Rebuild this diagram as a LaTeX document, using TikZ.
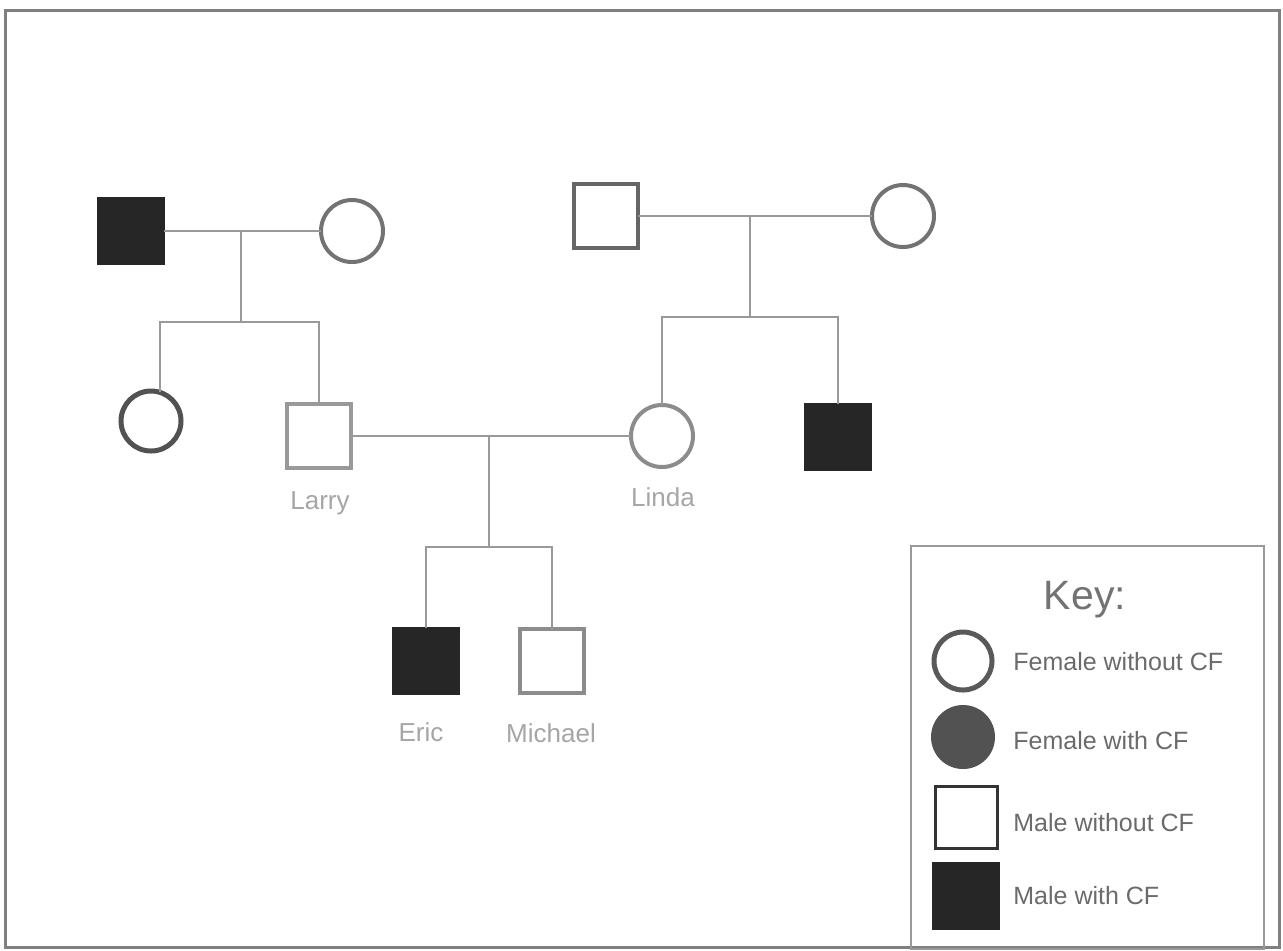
\documentclass[tikz,border=0pt]{standalone}
\usepackage{fontspec}
\setmainfont{Liberation Sans}
\begin{document}
\begin{tikzpicture}[x=0.5pt,y=-0.5pt,
  conn/.style={draw=black!40, line width=1pt},
  male/.style={rectangle, draw=black!60, fill=white, line width=2pt, minimum size=32pt, inner sep=0pt, outer sep=0pt},
  malecf/.style={rectangle, draw=black!85, fill=black!85, line width=1pt, minimum size=33pt, inner sep=0pt, outer sep=0pt},
  female/.style={circle, draw=black!60, fill=white, line width=2pt, minimum size=31pt, inner sep=0pt, outer sep=0pt},
  femalecf/.style={circle, draw=black!68, fill=black!68, line width=1pt, minimum size=31pt, inner sep=0pt, outer sep=0pt},
  lbl/.style={text=black!35, font=\fontsize{13}{15}\selectfont},
  keytxt/.style={text=black!58, font=\fontsize{12.5}{15}\selectfont, anchor=west, inner sep=0pt}]
\useasboundingbox (0,0) rectangle (1283,950);
\fill[white] (0,0) rectangle (1283,950);
\draw[black!50, line width=1.5pt] (5,10) rectangle (1279,947);

% generation 1
\node[malecf] (gf1) at (131,231) {};
\node[female, draw=black!55] (gm1) at (352,231) {};
\node[male, draw=black!60] (gf2) at (606,216) {};
\node[female, draw=black!55] (gm2) at (903,216) {};

% generation 2
\node[female, draw=black!68, line width=2.5pt, minimum size=30pt] (aunt) at (151,421) {};
\node[male, draw=black!40] (larry) at (319,436) {};
\node[female, draw=black!45] (linda) at (662,436) {};
\node[malecf] (uncle) at (838,437) {};
\node[lbl] (larrylbl) at (320,503) {Larry};
\node[lbl] (lindalbl) at (663,497) {Linda};

% generation 3
\node[malecf] (eric) at (426,661) {};
\node[male, draw=black!45] (michael) at (552,661) {};
\node[lbl] (ericlbl) at (421,732) {Eric};
\node[lbl] (michaellbl) at (551,733) {Michael};

% unions and sibships
\coordinate (u1) at (241,231);
\coordinate (s1) at (241,322);
\draw[conn] (gf1) -- (gm1);
\draw[conn] (u1) -- (s1);
\draw[conn] (aunt.72) -- (aunt.72 |- s1) -- (larry |- s1) -- (larry);

\coordinate (u2) at (750,216);
\coordinate (s2) at (750,317);
\draw[conn] (gf2) -- (gm2);
\draw[conn] (u2) -- (s2);
\draw[conn] (linda) -- (linda |- s2) -- (uncle |- s2) -- (uncle);

\coordinate (u3) at (489,436);
\coordinate (s3) at (489,547);
\draw[conn] (larry) -- (linda);
\draw[conn] (u3) -- (s3);
\draw[conn] (eric) -- (eric |- s3) -- (michael |- s3) -- (michael);

% key
\node[draw=black!40, line width=1pt, minimum width=176.5pt, minimum height=201.5pt, inner sep=0pt, anchor=north west] (keybox) at (910,545) {};
\node[text=black!55, font=\fontsize{20.5}{24}\selectfont] (keyttl) at (1085,600) {Key:};
\node[female, draw=black!65, line width=2.5pt, minimum size=29pt] (k1) at (963,661) {};
\node[femalecf, minimum size=31pt] (k2) at (963,737) {};
\node[male, draw=black!80, line width=1.5pt, minimum size=31pt] (k3) at (966,817) {};
\node[malecf, minimum size=33pt] (k4) at (966,896) {};
\node[keytxt] (t1) at (1013,662) {Female without CF};
\node[keytxt] (t2) at (1013,741) {Female with CF};
\node[keytxt] (t3) at (1013,823) {Male without CF};
\node[keytxt] (t4) at (1013,896) {Male with CF};
\end{tikzpicture}
\end{document}
